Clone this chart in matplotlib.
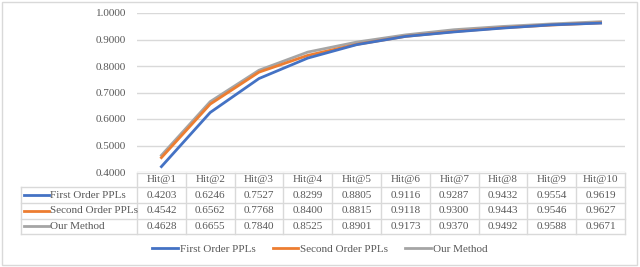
import matplotlib.pyplot as plt
from matplotlib.lines import Line2D
from matplotlib.patches import Rectangle
from matplotlib.transforms import blended_transform_factory

plt.rcParams['font.family'] = ['Liberation Serif', 'DejaVu Serif']

categories = ["Hit@1", "Hit@2", "Hit@3", "Hit@4", "Hit@5",
              "Hit@6", "Hit@7", "Hit@8", "Hit@9", "Hit@10"]
series_names = ["First Order PPLs", "Second Order PPLs", "Our Method"]
first_order = [0.4203, 0.6246, 0.7527, 0.8299, 0.8805, 0.9116, 0.9287, 0.9432, 0.9554, 0.9619]
second_order = [0.4542, 0.6562, 0.7768, 0.8400, 0.8815, 0.9118, 0.9300, 0.9443, 0.9546, 0.9627]
our_method = [0.4628, 0.6655, 0.7840, 0.8525, 0.8901, 0.9173, 0.9370, 0.9492, 0.9588, 0.9671]
colors = ["#4472C4", "#ED7D31", "#A5A5A5"]
text_col = "#595959"
grid_col = "#D9D9D9"
fs = 8

W, H = 640, 267
fig = plt.figure(figsize=(W / 100, H / 100), dpi=100)
fig.patch.set_facecolor("white")

def fx(px):
    return px / W

def fy(py):
    return 1 - py / H

# outer frame
fig.add_artist(Rectangle((fx(2), fy(265)), fx(635), 263 / H, transform=fig.transFigure,
                         fill=False, edgecolor=grid_col, linewidth=1))

ax = fig.add_axes([fx(137), fy(172), fx(625 - 137), (172 - 13) / H])
x = list(range(len(categories)))
all_series = [first_order, second_order, our_method]
for vals, c in zip(all_series[::-1], colors[::-1]):
    ax.plot(x, vals, color=c, linewidth=2.0, solid_joinstyle="miter")

ax.set_xlim(-0.5, len(categories) - 0.5)
ax.set_ylim(0.4, 1.0)
ax.set_yticks([0.4, 0.5, 0.6, 0.7, 0.8, 0.9, 1.0])
ax.set_yticklabels([f"{v:.4f}" for v in ax.get_yticks()], fontsize=fs, color=text_col)
ax.set_xticks([])
ax.tick_params(axis="y", length=0, pad=8)
ax.grid(axis="y", color=grid_col, linewidth=1)
ax.set_axisbelow(True)
for s in ax.spines.values():
    s.set_visible(False)

# data table under the axes
tr = blended_transform_factory(ax.transData, fig.transFigure)
rows_px = [172.5, 187, 203, 218.5, 234]
line_kw = dict(color=grid_col, linewidth=1, clip_on=False)

# horizontal lines
fig.add_artist(Line2D([fx(137), fx(625)], [fy(rows_px[0])] * 2, transform=fig.transFigure, **line_kw))
for r in rows_px[1:]:
    fig.add_artist(Line2D([fx(21), fx(625)], [fy(r)] * 2, transform=fig.transFigure, **line_kw))
# vertical lines
fig.add_artist(Line2D([fx(21)] * 2, [fy(rows_px[1]), fy(rows_px[-1])], transform=fig.transFigure, **line_kw))
for i in range(len(categories) + 1):
    fig.add_artist(Line2D([i - 0.5] * 2, [fy(rows_px[0]), fy(rows_px[-1])], transform=tr, **line_kw))

def row_mid(i):
    return fy((rows_px[i] + rows_px[i + 1]) / 2)

for i, cat in enumerate(categories):
    fig.text(i, row_mid(0), cat, transform=tr, ha="center", va="center", fontsize=fs, color=text_col)

for r, (name, vals, c) in enumerate(zip(series_names, all_series, colors), start=1):
    ym = row_mid(r)
    fig.add_artist(Line2D([fx(24), fx(49)], [ym, ym], transform=fig.transFigure, color=c, linewidth=2.0))
    fig.text(fx(50), ym, name, ha="left", va="center", fontsize=fs, color=text_col)
    for i, v in enumerate(vals):
        fig.text(i, ym, f"{v:.4f}", transform=tr, ha="center", va="center", fontsize=fs, color=text_col)

# bottom legend
handles = [Line2D([], [], color=c, linewidth=2.0) for c in colors]
leg = fig.legend(handles, series_names, loc="center", bbox_to_anchor=(0.5, fy(249)), ncol=3,
                 frameon=False, fontsize=fs, handlelength=2.3, handletextpad=0.2, columnspacing=1.5)
for t in leg.get_texts():
    t.set_color(text_col)

fig.savefig("out.png", dpi=100)
